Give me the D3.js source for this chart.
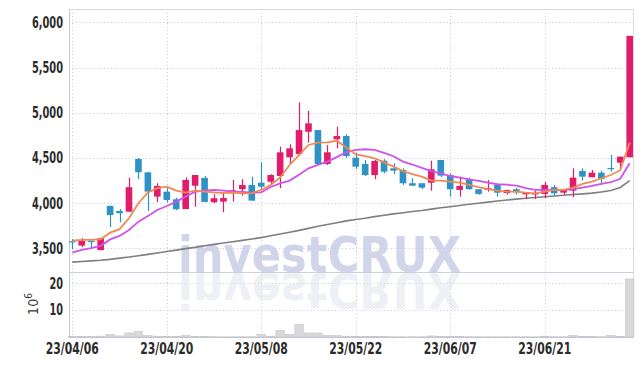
<!DOCTYPE html>
<html><head><meta charset="utf-8">
<script src="https://cdn.jsdelivr.net/npm/d3@7"></script>
<style>
body{margin:0;background:#fff}
text{font-family:"Liberation Sans Narrow","DejaVu Sans Condensed",sans-serif}
</style>
</head><body>
<svg id="c" width="642" height="366"></svg>
<script>
const dates = ["23/04/06","23/04/07","23/04/10","23/04/11","23/04/12","23/04/13","23/04/14","23/04/17","23/04/18","23/04/19",
"23/04/20","23/04/21","23/04/24","23/04/25","23/04/26","23/04/27","23/04/28","23/05/02","23/05/03","23/05/04",
"23/05/08","23/05/09","23/05/10","23/05/11","23/05/12","23/05/15","23/05/16","23/05/17","23/05/18","23/05/19",
"23/05/22","23/05/23","23/05/24","23/05/25","23/05/26","23/05/30","23/05/31","23/06/01","23/06/02","23/06/05",
"23/06/07","23/06/08","23/06/09","23/06/12","23/06/13","23/06/14","23/06/15","23/06/16","23/06/19","23/06/20",
"23/06/21","23/06/22","23/06/23","23/06/26","23/06/27","23/06/28","23/06/29","23/06/30","23/07/03","23/07/04"];
const opens = [3580,3532,3584,3481,3970,3915,3907,4489,4342,4073,
4128,4044,3936,4194,4279,4011,4018,4117,4155,4202,
4227,4238,4301,4508,4544,4790,4809,4434,4707,4743,
4503,4434,4312,4470,4386,4368,4221,4221,4227,4478,
4312,4147,4265,4155,4147,4202,4113,4155,4099,4099,
4103,4177,4117,4139,4357,4287,4338,4390,4448,4508];
const highs = [3605,3614,3590,3620,3975,3937,4283,4500,4342,4221,
4180,4062,4287,4312,4301,4100,4121,4257,4265,4294,
4453,4320,4625,4651,5115,5022,4809,4644,4846,4762,
4559,4478,4480,4486,4442,4386,4276,4221,4470,4478,
4331,4294,4283,4155,4257,4210,4150,4170,4120,4139,
4238,4202,4150,4386,4386,4368,4360,4533,4515,5850];
const lows = [3490,3514,3510,3481,3735,3790,3907,4265,3915,4011,
4010,3923,3936,3962,4014,4000,3901,4018,4084,4029,
4147,4202,4166,4434,4522,4669,4434,4423,4607,4503,
4379,4301,4265,4330,4320,4202,4194,4155,4139,4290,
4073,4073,4150,4095,4128,4073,4095,4095,4044,4047,
4055,4084,4095,4066,4250,4287,4202,4350,4386,4508];
const closes = [3570,3584,3570,3614,3870,3890,4177,4342,4128,4191,
4036,3934,4257,4312,4014,4055,4058,4143,4202,4029,
4183,4312,4563,4607,4809,4883,4434,4563,4743,4522,
4404,4312,4467,4349,4360,4221,4194,4172,4375,4305,
4155,4191,4155,4103,4166,4117,4147,4121,4117,4110,
4202,4110,4147,4283,4294,4338,4268,4379,4515,5850];
const maShort = [3587,3595,3595,3602,3675,3713,3834,4000,4120,4166,
4183,4139,4117,4140,4128,4121,4112,4117,4110,4112,
4147,4202,4285,4423,4533,4644,4669,4672,4690,4615,
4540,4522,4497,4452,4404,4355,4323,4294,4250,4250,
4238,4227,4202,4177,4155,4139,4128,4128,4117,4110,
4128,4147,4147,4172,4213,4238,4276,4312,4365,4670];
const maMid = [3455,3484,3503,3529,3600,3639,3705,3797,3860,3926,
3970,4018,4073,4128,4139,4147,4140,4128,4125,4117,
4120,4180,4220,4250,4316,4386,4423,4460,4510,4566,
4591,4597,4590,4557,4520,4460,4428,4390,4355,4331,
4301,4283,4265,4246,4227,4210,4205,4194,4166,4147,
4147,4147,4144,4155,4172,4191,4213,4232,4270,4442];
const maLong = [3349,3356,3363,3370,3380,3393,3405,3420,3435,3450,
3466,3482,3498,3512,3530,3545,3560,3575,3590,3605,
3620,3640,3660,3680,3700,3722,3745,3765,3785,3805,
3820,3835,3852,3868,3882,3895,3908,3920,3935,3950,
3962,3975,3988,4000,4012,4024,4036,4045,4055,4063,
4072,4080,4088,4096,4104,4112,4125,4140,4175,4250];
const volumes = [0.2,0.2,0.2,0.3,0.9,0.4,1.5,2.1,0.5,0.3,
0.2,0.2,0.6,0.2,0.2,0.1,0.1,0.1,0.1,0.1,
1.0,0.3,2.5,1.0,4.7,1.5,1.5,0.6,0.5,0.3,
0.2,0.2,0.2,0.2,0.1,0.1,0.1,0.1,0.4,0.2,
0.2,0.2,0.1,0.1,0.1,0.1,0.1,0.1,0.1,0.1,
0.3,0.1,0.1,0.6,0.2,0.2,0.1,0.6,0.2,21.6];
const tickDates = ["23/04/06","23/04/20","23/05/08","23/05/22","23/06/07","23/06/21"];
const priceTicks = [3500,4000,4500,5000,5500,6000];
const volTicks = [10,20];

const L = 69, R = 633, T = 9, MID = 272, B = 337;
const upColor = "#e21b6a", downColor = "#2f92c6";
const svg = d3.select("#c");

const x = d3.scaleBand().domain(dates).range([L, R]).paddingInner(0.3).paddingOuter(0);
const cx = d => x(d) + x.bandwidth() / 2;
const y = d3.scaleLinear().domain([3240, 6147]).range([MID, T]);
const yv = d3.scaleLinear().domain([0, 24.2]).range([B, MID]);

// grid
const grid = svg.append("g").attr("stroke", "#c3c8dc").attr("stroke-dasharray", "1,2.5").attr("stroke-width", 1);
grid.selectAll(".hp").data(priceTicks).join("line")
  .attr("x1", L).attr("x2", R).attr("y1", d => Math.round(y(d)) + 0.5).attr("y2", d => Math.round(y(d)) + 0.5);
grid.selectAll(".hv").data(volTicks).join("line")
  .attr("x1", L).attr("x2", R).attr("y1", d => Math.round(yv(d)) + 0.5).attr("y2", d => Math.round(yv(d)) + 0.5);
grid.selectAll(".vv").data(tickDates).join("line")
  .attr("x1", d => Math.round(cx(d)) + 0.5).attr("x2", d => Math.round(cx(d)) + 0.5).attr("y1", T).attr("y2", B);

// watermark
const wm = svg.append("g").attr("font-family", "'Liberation Sans','DejaVu Sans',sans-serif").attr("font-weight", "bold");
wm.append("text").attr("x", 178).attr("y", 272).attr("font-size", 50)
  .attr("textLength", 283).attr("lengthAdjust", "spacingAndGlyphs")
  .attr("fill", "#c6cbe4").attr("fill-opacity", 0.8).text("investCRUX");
wm.append("text").attr("transform", "translate(0,545) scale(1,-1)").attr("x", 178).attr("y", 272).attr("font-size", 50)
  .attr("textLength", 283).attr("lengthAdjust", "spacingAndGlyphs")
  .attr("fill", "#e3e6f1").attr("fill-opacity", 0.6).text("investCRUX");

// frame
svg.append("rect").attr("x", L + 0.5).attr("y", T + 0.5).attr("width", R - L).attr("height", B - T)
  .attr("fill", "none").attr("stroke", "#d6d9e6");
svg.append("line").attr("x1", L).attr("x2", R).attr("y1", MID + 0.5).attr("y2", MID + 0.5).attr("stroke", "#ccd0de");
svg.append("line").attr("x1", L + 0.5).attr("x2", L + 0.5).attr("y1", T).attr("y2", B).attr("stroke", "#c2c6d6");
svg.append("line").attr("x1", L).attr("x2", R).attr("y1", B + 0.5).attr("y2", B + 0.5).attr("stroke", "#c2c6d6");

// volume bars
const step = x.step();
svg.append("g").selectAll("rect").data(dates).join("rect")
  .attr("x", d => cx(d) - step / 2 + 0.5).attr("width", step - 1)
  .attr("y", (d, i) => yv(volumes[i])).attr("height", (d, i) => B - yv(volumes[i]))
  .attr("fill", "#d9d9dc").attr("stroke", "#c4c4c8").attr("stroke-width", 0.6);

// moving averages
const line = arr => d3.line().x((d, i) => cx(dates[i])).y(d => y(d))(arr);
svg.append("path").attr("d", line(maLong)).attr("fill", "none").attr("stroke", "#7f7f7f").attr("stroke-width", 1.6);

// candles
const cg = svg.append("g");
dates.forEach((d, i) => {
  const up = closes[i] >= opens[i];
  const col = up ? upColor : downColor;
  const xc = Math.round(cx(d)) + 0.5;
  cg.append("line").attr("x1", xc).attr("x2", xc).attr("y1", y(highs[i])).attr("y2", y(lows[i]))
    .attr("stroke", col).attr("stroke-width", 1.2);
  const top = y(Math.max(opens[i], closes[i])), bot = y(Math.min(opens[i], closes[i]));
  cg.append("rect").attr("x", cx(d) - x.bandwidth() / 2).attr("width", x.bandwidth())
    .attr("y", top).attr("height", Math.max(1.2, bot - top)).attr("fill", col);
});

svg.append("path").attr("d", line(maMid)).attr("fill", "none").attr("stroke", "#cf52ea").attr("stroke-width", 1.8);
svg.append("path").attr("d", line(maShort)).attr("fill", "none").attr("stroke", "#f08a52").attr("stroke-width", 1.8);

// axes
const fontFam = "'Liberation Sans Narrow','DejaVu Sans Condensed',sans-serif";
const ay = svg.append("g").attr("transform", `translate(${L},0)`)
  .call(d3.axisLeft(y).tickValues(priceTicks).tickSize(0).tickPadding(6).tickFormat(d3.format(",")));
ay.select(".domain").remove();
ay.selectAll("text").attr("font-size", 15).attr("font-weight", "bold").attr("fill", "#2b2b2b")
  .attr("font-family", fontFam).attr("textLength", 31).attr("lengthAdjust", "spacingAndGlyphs");
const av = svg.append("g").attr("transform", `translate(${L},0)`)
  .call(d3.axisLeft(yv).tickValues(volTicks).tickSize(0).tickPadding(6));
av.select(".domain").remove();
av.selectAll("text").attr("font-size", 15).attr("font-weight", "bold").attr("fill", "#2b2b2b")
  .attr("font-family", fontFam).attr("textLength", 13.5).attr("lengthAdjust", "spacingAndGlyphs");
const ax = svg.append("g").attr("transform", `translate(0,${B})`)
  .call(d3.axisBottom(x).tickValues(tickDates).tickSize(0).tickPadding(6));
ax.select(".domain").remove();
ax.selectAll("text").attr("font-size", 15).attr("font-weight", "bold").attr("fill", "#2b2b2b")
  .attr("font-family", fontFam).attr("textLength", 53).attr("lengthAdjust", "spacingAndGlyphs");

// unit label
const ul = svg.append("text").attr("transform", "translate(38,304) rotate(-90)")
  .attr("font-size", 14).attr("fill", "#3a3a3a").attr("text-anchor", "middle");
ul.append("tspan").text("10");
ul.append("tspan").attr("dy", -6).attr("font-size", 10).text("6");
</script>
</body></html>
